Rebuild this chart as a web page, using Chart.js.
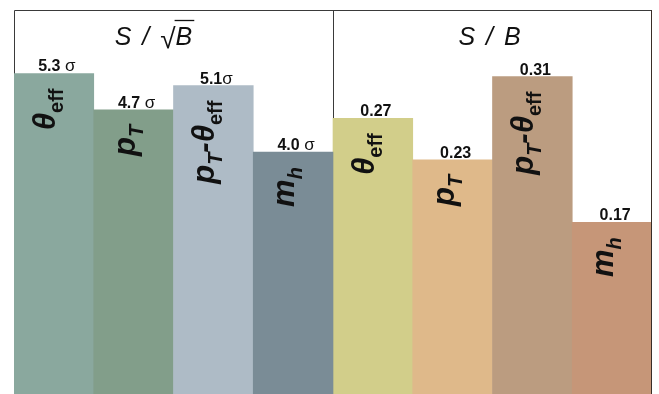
<!DOCTYPE html>
<html>
<head>
<meta charset="utf-8">
<script src="https://cdn.jsdelivr.net/npm/chart.js@4.4.1/dist/chart.umd.min.js"></script>
<style>
  html, body { margin: 0; padding: 0; background: #fff; }
  #wrap { width: 659px; height: 394px; }
</style>
</head>
<body>
<div id="wrap"><canvas id="chart" width="659" height="394"></canvas></div>
<script>
// bar labels, _{..} marks a subscript
const categories = ['θ_{eff}', 'p_{T}', 'p_{T}-θ_{eff}', 'm_{h}', 'θ_{eff}', 'p_{T}', 'p_{T}-θ_{eff}', 'm_{h}'];
const panelTitles = ['S / √B', 'S / B'];

// left panel: significance
const significance = [5.3, 4.7, 5.1, 4.0];
const significanceLabels = ['5.3 σ', '4.7 σ', '5.1σ', '4.0 σ'];

// right panel: signal over background
const ratio = [0.27, 0.23, 0.31, 0.17];
const ratioLabels = ['0.27', '0.23', '0.31', '0.17'];

const barColours = ['#8aa89e', '#829e8a', '#aebbc6', '#7a8c96', '#d2ce8a', '#dfb98a', '#bb9c80', '#c69678'];

const FONT = '"Liberation Sans", Arial, Helvetica, sans-serif';

function parseRich(s) {
  const parts = [];
  const re = /_\{([^}]*)\}/g;
  let last = 0, m;
  while ((m = re.exec(s))) {
    if (m.index > last) parts.push({ t: s.slice(last, m.index), sub: false });
    parts.push({ t: m[1], sub: true });
    last = re.lastIndex;
  }
  if (last < s.length) parts.push({ t: s.slice(last), sub: false });
  return parts;
}

function partFont(p) {
  if (!p.sub) return 'italic bold 31px ' + FONT;
  return (p.t.length == 1 ? 'italic bold 20px ' : 'bold 20px ') + FONT;
}

function drawTitle(ctx, text, cx, y) {
  const i = text.indexOf('√');
  const head = i < 0 ? text : text.slice(0, i);
  const rad = i < 0 ? '' : '√';
  const tail = i < 0 ? '' : text.slice(i + 1);
  const italic = 'italic 25px ' + FONT;
  const plain = '28px ' + FONT;
  ctx.letterSpacing = '2px';
  ctx.font = italic;
  const wHead = ctx.measureText(head).width;
  const wTail = ctx.measureText(tail).width;
  ctx.font = plain;
  const wRad = rad ? ctx.measureText(rad).width : 0;
  let x = cx - (wHead + wRad + wTail) / 2;
  ctx.fillStyle = '#111';
  ctx.textBaseline = 'alphabetic';
  ctx.textAlign = 'left';
  ctx.font = italic;
  ctx.fillText(head, x, y);
  x += wHead;
  if (rad) {
    ctx.font = plain;
    ctx.fillText(rad, x, y + 3);
    x += wRad - 2;
    ctx.font = italic;
    ctx.fillText(tail, x, y);
    ctx.strokeStyle = '#111';
    ctx.lineWidth = 1.3;
    ctx.beginPath();
    ctx.moveTo(x - 1, y - 24.5);
    ctx.lineTo(x + wTail, y - 24.5);
    ctx.stroke();
  }
  ctx.letterSpacing = '0px';
}

const panelPlugin = {
  id: 'panels',
  beforeDatasetsDraw(chart) {
    const { ctx, chartArea: a, scales: { x } } = chart;
    const mid = Math.round((x.getPixelForValue(3) + x.getPixelForValue(4)) / 2);
    ctx.save();
    ctx.strokeStyle = '#3a3a3a';
    ctx.lineWidth = 1;
    ctx.beginPath();
    ctx.moveTo(a.left + 0.5, a.bottom);
    ctx.lineTo(a.left + 0.5, a.top + 0.5);
    ctx.lineTo(a.right - 0.5, a.top + 0.5);
    ctx.moveTo(mid + 0.5, a.top);
    ctx.lineTo(mid + 0.5, a.bottom);
    ctx.stroke();
    drawTitle(ctx, panelTitles[0], (a.left + mid) / 2 - 18, a.top + 35);
    drawTitle(ctx, panelTitles[1], (mid + a.right) / 2 - 2, a.top + 35);
    ctx.restore();
  },
  afterDatasetsDraw(chart) {
    const { ctx, chartArea: a } = chart;
    ctx.save();
    ctx.strokeStyle = '#3a2e28';
    ctx.lineWidth = 1;
    ctx.beginPath();
    ctx.moveTo(a.right - 0.5, a.top);
    ctx.lineTo(a.right - 0.5, a.bottom);
    ctx.stroke();

    const valueLabels = [significanceLabels, ratioLabels];
    chart.data.datasets.forEach((ds, d) => {
      const meta = chart.getDatasetMeta(d);
      meta.data.forEach((el, i) => {
        if (ds.data[i] == null) return;
        const k = d == 0 ? i : i - significance.length;

        // value above the bar: number bold, sigma plain
        const m = valueLabels[d][k].match(/^([\d.]+)(.*)$/);
        const num = m[1], rest = m[2];
        ctx.textBaseline = 'alphabetic';
        ctx.textAlign = 'left';
        ctx.fillStyle = '#111';
        ctx.font = 'bold 16px ' + FONT;
        const wNum = ctx.measureText(num).width;
        ctx.font = '17px ' + FONT;
        const wRest = ctx.measureText(rest).width;
        let tx = el.x + 3 - (wNum + wRest) / 2;
        ctx.font = 'bold 16px ' + FONT;
        ctx.fillText(num, tx, el.y - 2);
        ctx.font = '17px ' + FONT;
        ctx.fillText(rest, tx + wNum, el.y - 2);

        // rotated category name inside the bar
        const parts = parseRich(categories[i]);
        let total = 0;
        parts.forEach(p => { ctx.font = partFont(p); p.w = ctx.measureText(p.t).width; total += p.w; });
        ctx.save();
        ctx.translate(el.x + 1, el.y + 15 + total);
        ctx.rotate(-Math.PI / 2);
        let cx = 0;
        parts.forEach(p => {
          ctx.font = partFont(p);
          ctx.fillText(p.t, cx, p.sub ? 8 : 0);
          cx += p.w;
        });
        ctx.restore();
      });
    });
    ctx.restore();
  }
};

const pad = (arr, before, after) => Array(before).fill(null).concat(arr, Array(after).fill(null));

new Chart(document.getElementById('chart'), {
  type: 'bar',
  data: {
    labels: categories,
    datasets: [
      {
        label: panelTitles[0],
        data: pad(significance, 0, ratio.length),
        yAxisID: 'ySig',
        backgroundColor: barColours,
        barPercentage: 1,
        categoryPercentage: 1,
        grouped: false
      },
      {
        label: panelTitles[1],
        data: pad(ratio, significance.length, 0),
        yAxisID: 'yRatio',
        backgroundColor: barColours,
        barPercentage: 1,
        categoryPercentage: 1,
        grouped: false
      }
    ]
  },
  options: {
    responsive: false,
    animation: false,
    layout: { padding: { top: 10, left: 14, right: 7, bottom: 0 } },
    plugins: { legend: { display: false }, tooltip: { enabled: false } },
    scales: {
      x: { display: false },
      ySig: { display: false, min: 0, max: 6.35 },
      yRatio: { display: false, min: 0.005, max: 0.374 }
    }
  },
  plugins: [panelPlugin]
});
</script>
</body>
</html>
